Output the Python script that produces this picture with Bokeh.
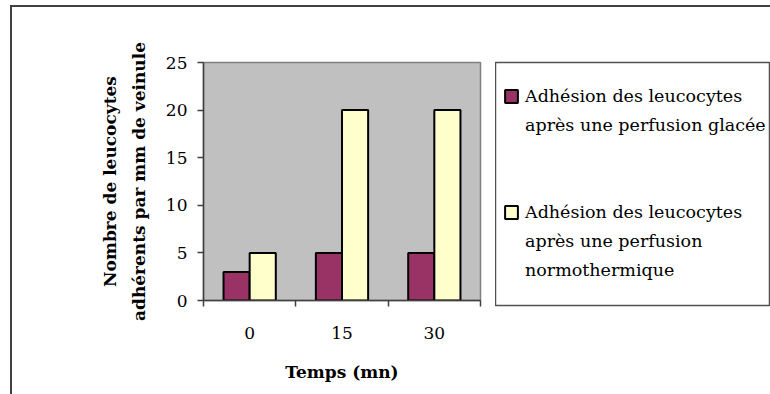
import numpy as np
from bokeh.plotting import figure
from bokeh.layouts import row
from bokeh.models import (ColumnDataSource, FixedTicker, Legend, LegendItem,
                          Range1d)
from bokeh.embed import file_html
from bokeh.resources import INLINE

# Data
categories = ["0", "15", "30"]
glacee = [3, 5, 5]
normothermique = [5, 20, 20]
y_ticks = [0, 5, 10, 15, 20, 25]
label_glacee = ["Adhésion des leucocytes", "après une perfusion glacée"]
label_normo = ["Adhésion des leucocytes", "après une perfusion", "normothermique"]

FONT = "DejaVu Serif"
BAR_W = 0.283
PURPLE = "#993366"
CREAM = "#ffffcc"

centers = np.arange(len(categories)) + 0.5
src = ColumnDataSource(dict(
    x1=centers - BAR_W / 2, x2=centers + BAR_W / 2,
    g=glacee, n=normothermique))

# ---- bar chart -------------------------------------------------------------
p = figure(frame_width=277, frame_height=238,
           min_border_left=191, min_border_right=15,
           min_border_top=55, min_border_bottom=94,
           x_range=Range1d(0, len(categories)), y_range=Range1d(0, 25),
           output_backend="svg", toolbar_location=None, tools="")

p.background_fill_color = "#c0c0c0"
p.border_fill_color = "white"
p.outline_line_color = "#808080"
p.outline_line_width = 1.5
p.grid.visible = False

p.vbar(x="x1", top="g", width=BAR_W, source=src,
       fill_color=PURPLE, line_color="black", line_width=2)
p.vbar(x="x2", top="n", width=BAR_W, source=src,
       fill_color=CREAM, line_color="black", line_width=2)

# x axis: labels at category centres, ticks at category boundaries
xa = p.xaxis[0]
xa.ticker = FixedTicker(ticks=list(centers),
                        minor_ticks=list(range(len(categories) + 1)))
xa.major_label_overrides = {float(c): lab for c, lab in zip(centers, categories)}
xa.major_tick_out = 0
xa.major_tick_in = 0
xa.minor_tick_out = 6
xa.minor_tick_in = 0
xa.minor_tick_line_color = "#404040"
xa.minor_tick_line_width = 1.5
xa.axis_line_color = "#404040"
xa.axis_line_width = 1.5
xa.major_label_standoff = 20
xa.major_label_text_font = FONT
xa.major_label_text_font_size = "17px"
xa.major_label_text_color = "black"
xa.axis_label = "Temps (mn)"
xa.axis_label_text_font = FONT
xa.axis_label_text_font_style = "bold"
xa.axis_label_text_font_size = "17px"
xa.axis_label_text_color = "black"
xa.axis_label_standoff = 20

ya = p.yaxis[0]
ya.ticker = FixedTicker(ticks=y_ticks, minor_ticks=[])
ya.major_tick_out = 6
ya.major_tick_in = 0
ya.major_tick_line_color = "#404040"
ya.major_tick_line_width = 1.5
ya.axis_line_color = "#404040"
ya.axis_line_width = 1.5
ya.major_label_standoff = 10
ya.major_label_text_font = FONT
ya.major_label_text_font_size = "17px"
ya.major_label_text_color = "black"
ya.axis_label = "Nombre de leucocytes\nadhérents par mm de veinule"
ya.axis_label_text_font = FONT
ya.axis_label_text_font_style = "bold"
ya.axis_label_text_font_size = "17px"
ya.axis_label_text_color = "black"
ya.axis_label_text_line_height = 1.45
ya.axis_label_standoff = 14

# ---- legend panel ------------------------------------------------------------
lg = figure(frame_width=274, frame_height=243,
            min_border_left=0, min_border_right=1,
            min_border_top=55, min_border_bottom=89,
            x_range=Range1d(0, 1), y_range=Range1d(0, 1),
            x_axis_location=None, y_axis_location=None,
            output_backend="svg", toolbar_location=None, tools="")
lg.background_fill_color = "white"
lg.border_fill_color = "white"
lg.outline_line_color = "#505050"
lg.outline_line_width = 1.5
lg.grid.visible = False

# key swatches: hidden copies of the series, only their legend glyphs show
key_glacee = lg.vbar(x="x1", top="g", width=BAR_W, source=src,
                     fill_color=PURPLE, line_color="black", line_width=2,
                     visible=False)
key_normo = lg.vbar(x="x2", top="n", width=BAR_W, source=src,
                    fill_color=CREAM, line_color="black", line_width=2,
                    visible=False)
no_key = lg.vbar(x="x1", top="g", width=BAR_W, source=src,
                 fill_alpha=0, line_alpha=0, visible=False)

items = [LegendItem(label=label_glacee[0], renderers=[key_glacee])]
items += [LegendItem(label=t, renderers=[no_key]) for t in label_glacee[1:]]
items += [LegendItem(label=" ", renderers=[no_key]) for _ in range(2)]
items += [LegendItem(label=label_normo[0], renderers=[key_normo])]
items += [LegendItem(label=t, renderers=[no_key]) for t in label_normo[1:]]

legend = Legend(items=items, location=(8, 21))
legend.label_text_font = FONT
legend.label_text_font_size = "17.5px"
legend.label_text_color = "black"
legend.label_height = 29
legend.glyph_width = 16
legend.glyph_height = 16
legend.label_standoff = 6
legend.spacing = 0
legend.padding = 0
legend.margin = 0
legend.border_line_alpha = 0
legend.background_fill_alpha = 0
lg.add_layout(legend)

# outer chart border (left and top edges in view)
layout = row(p, lg, spacing=0,
             styles={"margin-left": "10px", "margin-top": "5px",
                     "border-left": "2px solid #404040",
                     "border-top": "2px solid #404040"})

open("out.html", "w").write(file_html(layout, INLINE))
